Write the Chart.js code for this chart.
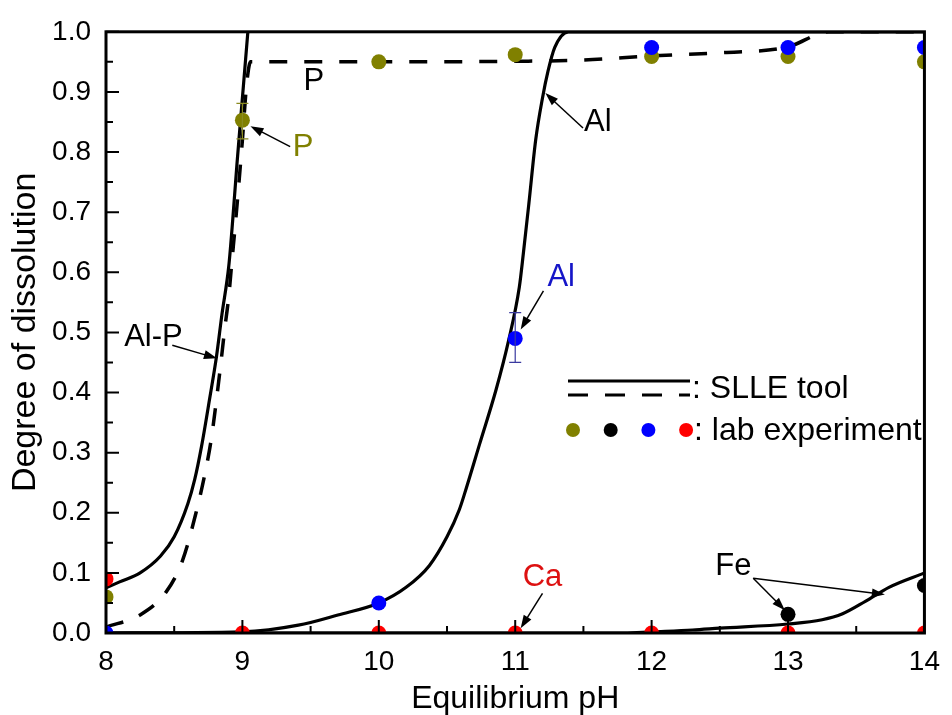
<!DOCTYPE html>
<html>
<head>
<meta charset="utf-8">
<script src="https://cdn.jsdelivr.net/npm/chart.js@4.4.1/dist/chart.umd.min.js"></script>
<style>
  html, body { margin: 0; padding: 0; background: #ffffff; }
  #wrap { width: 952px; height: 715px; }
</style>
</head>
<body>
<div id="wrap"><canvas id="chart" width="952" height="715"></canvas></div>
<script>
// SLLE tool curves
const alpCurvePH = [8.0, 8.1, 8.25, 8.4, 8.5, 8.6, 8.65, 8.7, 8.76, 8.81, 8.85, 8.9, 8.93, 8.96, 9.0, 9.04]
const alpCurveVal = [0.075, 0.085, 0.10, 0.128, 0.16, 0.215, 0.255, 0.31, 0.39, 0.46, 0.53, 0.61, 0.69, 0.78, 0.89, 1.0]

const pCurvePH = [8.0, 8.25, 8.44, 8.56, 8.66, 8.73, 8.77, 8.80, 8.84, 8.87, 8.90, 8.92, 8.96, 9.0, 9.03, 9.06, 10.0, 11.0, 11.5, 12.0, 12.5, 13.0, 13.3, 14.0]
const pCurveVal = [0.01, 0.03, 0.068, 0.12, 0.20, 0.27, 0.32, 0.37, 0.445, 0.505, 0.56, 0.61, 0.71, 0.82, 0.91, 0.95, 0.95, 0.951, 0.953, 0.96, 0.965, 0.975, 1.0, 1.0]

const alCurvePH = [8.0, 9.0, 9.41, 9.7, 10.0, 10.2, 10.37, 10.5, 10.59, 10.64, 10.74, 10.86, 10.95, 11.03, 11.06, 11.10, 11.15, 11.2, 11.24, 11.29, 11.39, 14.0]
const alCurveVal = [0.0, 0.002, 0.013, 0.03, 0.05, 0.076, 0.112, 0.16, 0.205, 0.24, 0.315, 0.405, 0.485, 0.575, 0.632, 0.714, 0.82, 0.89, 0.934, 0.974, 1.0, 1.0]

const feCurvePH = [8.0, 11.8, 12.0, 12.3, 12.5, 13.0, 13.25, 13.4, 13.57, 13.74, 14.0]
const feCurveVal = [0.0, 0.0, 0.002, 0.005, 0.008, 0.015, 0.022, 0.032, 0.053, 0.076, 0.1]

// lab experiment points
const pLabPH = [8, 9, 10, 11, 12, 13, 14]
const pLabVal = [0.06, 0.853, 0.95, 0.962, 0.959, 0.959, 0.95]
const alLabPH = [8, 10, 11, 12, 13, 14]
const alLabVal = [0.0, 0.05, 0.49, 0.974, 0.974, 0.974]
const feLabPH = [13, 14]
const feLabVal = [0.031, 0.079]
const caLabPH = [8, 9, 10, 11, 12, 13, 14]
const caLabVal = [0.09, 0, 0, 0, 0, 0, 0]

// error bars
const errPH = [9, 11]
const errLow = [0.822, 0.45]
const errHigh = [0.881, 0.533]
const errColor = ['#8a8a20', '#3a3aa0']

const xTicks = [8, 9, 10, 11, 12, 13, 14]
const yTicks = [0, 0.1, 0.2, 0.3, 0.4, 0.5, 0.6, 0.7, 0.8, 0.9, 1.0]

const OLIVE = '#808000'
const FONT = '"Liberation Sans", Arial, sans-serif'

const toPoints = (xs, ys) => xs.map((x, i) => ({ x, y: ys[i] }))

// labels with arrows, in data coordinates
const notes = [
  { text: 'P', color: '#000', at: [9.524, 0.918], arrows: [] },
  { text: 'P', color: OLIVE, at: [9.444, 0.808], arrows: [[[9.35, 0.809], [9.059, 0.843]]] },
  { text: 'Al', color: '#000', at: [11.606, 0.85], arrows: [[[11.497, 0.84], [11.221, 0.898]]] },
  { text: 'Al-P', color: '#000', at: [8.348, 0.492], arrows: [[[8.486, 0.4785], [8.813, 0.457]]] },
  { text: 'Al', color: '#1515c8', at: [11.337, 0.592], arrows: [[[11.207, 0.569], [11.04, 0.505]]] },
  { text: 'Ca', color: '#dd1111', at: [11.2, 0.092], arrows: [[[11.2, 0.066], [11.04, 0.008]]] },
  { text: 'Fe', color: '#000', at: [12.6, 0.11], arrows: [[[12.745, 0.091], [12.977, 0.038]], [[12.745, 0.091], [13.71, 0.064]]] },
]

function drawArrow(ctx, x0, y0, x1, y1) {
  const ang = Math.atan2(y1 - y0, x1 - x0)
  const head = 13
  const half = 4.5
  ctx.beginPath()
  ctx.moveTo(x0, y0)
  ctx.lineTo(x1 - Math.cos(ang) * head * 0.8, y1 - Math.sin(ang) * head * 0.8)
  ctx.stroke()
  ctx.beginPath()
  ctx.moveTo(x1, y1)
  ctx.lineTo(x1 - Math.cos(ang) * head - Math.sin(ang) * half, y1 - Math.sin(ang) * head + Math.cos(ang) * half)
  ctx.lineTo(x1 - Math.cos(ang) * head + Math.sin(ang) * half, y1 - Math.sin(ang) * head - Math.cos(ang) * half)
  ctx.closePath()
  ctx.fill()
}

const framePlugin = {
  id: 'frame',
  afterDatasetsDraw(chart) {
    const { ctx, chartArea: area, scales: { x, y } } = chart
    ctx.save()

    // error bars
    errPH.forEach((ph, i) => {
      const px = x.getPixelForValue(ph)
      const lo = y.getPixelForValue(errLow[i])
      const hi = y.getPixelForValue(errHigh[i])
      ctx.strokeStyle = errColor[i]
      ctx.lineWidth = 1.2
      ctx.beginPath()
      ctx.moveTo(px, lo); ctx.lineTo(px, hi)
      ctx.moveTo(px - 6, lo); ctx.lineTo(px + 6, lo)
      ctx.moveTo(px - 6, hi); ctx.lineTo(px + 6, hi)
      ctx.stroke()
    })

    // inward ticks
    ctx.strokeStyle = '#000'
    ctx.lineWidth = 2
    ctx.beginPath()
    for (let v = 8; v <= 14.001; v += 0.5) {
      const px = x.getPixelForValue(v)
      const len = Math.abs(v - Math.round(v)) < 0.01 ? 13 : 7
      ctx.moveTo(px, area.bottom); ctx.lineTo(px, area.bottom - len)
    }
    for (let k = 0; k <= 20; k++) {
      const py = y.getPixelForValue(k * 0.05)
      const len = k % 2 === 0 ? 13 : 7
      ctx.moveTo(area.left, py); ctx.lineTo(area.left + len, py)
    }
    ctx.stroke()

    // frame
    ctx.lineWidth = 3
    ctx.strokeRect(area.left, area.top, area.right - area.left, area.bottom - area.top)

    // annotations
    ctx.textAlign = 'center'
    ctx.textBaseline = 'middle'
    ctx.font = `31px ${FONT}`
    notes.forEach((n) => {
      ctx.fillStyle = n.color
      ctx.fillText(n.text, x.getPixelForValue(n.at[0]), y.getPixelForValue(n.at[1]))
      ctx.fillStyle = '#000'
      ctx.strokeStyle = '#000'
      ctx.lineWidth = 1.5
      n.arrows.forEach(([from, to]) => {
        drawArrow(ctx, x.getPixelForValue(from[0]), y.getPixelForValue(from[1]),
          x.getPixelForValue(to[0]), y.getPixelForValue(to[1]))
      })
    })

    // legend
    ctx.strokeStyle = '#000'
    ctx.lineWidth = 3.2
    ctx.beginPath()
    ctx.moveTo(568, 381); ctx.lineTo(690, 381)
    ctx.stroke()
    ctx.setLineDash([20, 17])
    ctx.beginPath()
    ctx.moveTo(568, 395); ctx.lineTo(690, 395)
    ctx.stroke()
    ctx.setLineDash([])
    ;[OLIVE, '#000000', '#0000ff', '#ff0000'].forEach((c, i) => {
      ctx.fillStyle = c
      ctx.beginPath()
      ctx.arc(573 + i * 37.7, 430, 7, 0, Math.PI * 2)
      ctx.fill()
    })
    ctx.fillStyle = '#000'
    ctx.textAlign = 'left'
    ctx.textBaseline = 'alphabetic'
    ctx.font = `32px ${FONT}`
    ctx.fillText(': SLLE tool', 692, 398)
    ctx.fillText(': lab experiment', 694, 440)

    ctx.restore()
  },
}

const curve = (label, xs, ys, dashed) => ({
  label,
  data: toPoints(xs, ys),
  showLine: true,
  borderColor: '#000',
  borderWidth: dashed ? 3.5 : 3.2,
  borderDash: dashed ? [18, 17] : [],
  borderJoinStyle: 'round',
  cubicInterpolationMode: 'monotone',
  pointRadius: 0,
  pointHoverRadius: 0,
  clip: 0,
  order: 10,
})

const dots = (label, xs, ys, color, order) => ({
  label,
  data: toPoints(xs, ys),
  showLine: false,
  pointRadius: 7.5,
  pointBackgroundColor: color,
  pointBorderColor: color,
  pointBorderWidth: 0,
  clip: 0,
  order,
})

new Chart(document.getElementById('chart'), {
  type: 'scatter',
  data: {
    datasets: [
      dots('Ca (lab)', caLabPH, caLabVal, '#ff0000', 1),
      dots('Fe (lab)', feLabPH, feLabVal, '#000000', 0),
      dots('Al (lab)', alLabPH, alLabVal, '#0000ff', 2),
      dots('P (lab)', pLabPH, pLabVal, OLIVE, 3),
      curve('Al-P', alpCurvePH, alpCurveVal, false),
      curve('P', pCurvePH, pCurveVal, true),
      curve('Al', alCurvePH, alCurveVal, false),
      curve('Fe', feCurvePH, feCurveVal, false),
    ],
  },
  options: {
    responsive: false,
    animation: false,
    layout: { padding: { top: 27, right: 19, left: 0, bottom: 0 } },
    plugins: { legend: { display: false }, tooltip: { enabled: false } },
    scales: {
      x: {
        type: 'linear',
        min: 8,
        max: 14,
        afterFit: (s) => { s.height = 82 },
        afterBuildTicks: (s) => { s.ticks = xTicks.map((v) => ({ value: v })) },
        grid: { display: false, drawTicks: false },
        border: { display: false },
        ticks: { color: '#000', padding: 12, font: { size: 28, family: FONT } },
        title: {
          display: true,
          text: 'Equilibrium pH',
          color: '#000',
          padding: { top: 0, bottom: 0 },
          font: { size: 32, family: FONT, lineHeight: 1 },
        },
      },
      y: {
        min: 0,
        max: 1,
        afterFit: (s) => { s.width = 106 },
        afterBuildTicks: (s) => { s.ticks = yTicks.map((v) => ({ value: v })) },
        grid: { display: false, drawTicks: false },
        border: { display: false },
        ticks: {
          color: '#000',
          padding: 15,
          font: { size: 28, family: FONT },
          callback: (v) => Number(v).toFixed(1),
        },
        title: {
          display: true,
          text: 'Degree of dissolution',
          color: '#000',
          padding: { top: 9, bottom: 0 },
          font: { size: 34, family: FONT, lineHeight: 1 },
        },
      },
    },
  },
  plugins: [framePlugin],
})
</script>
</body>
</html>
